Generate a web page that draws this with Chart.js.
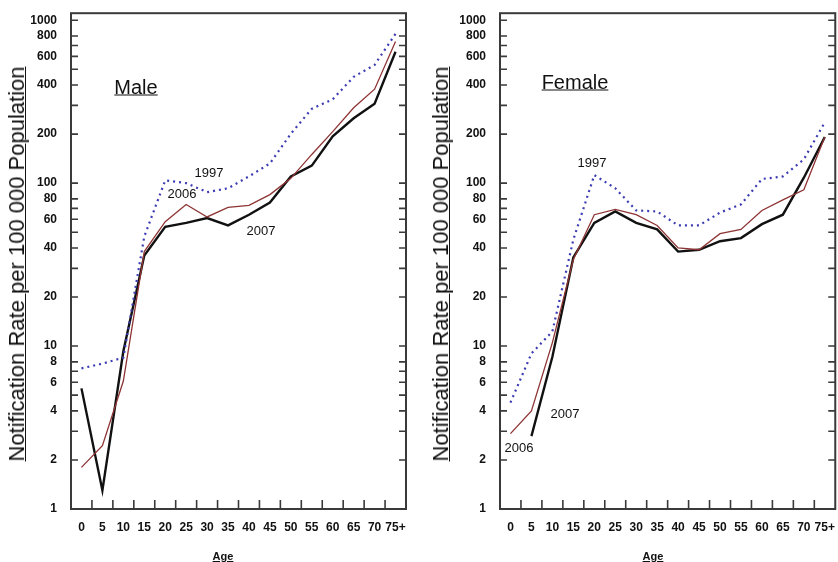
<!DOCTYPE html>
<html>
<head>
<meta charset="utf-8">
<script src="https://cdn.jsdelivr.net/npm/chart.js@4.4.0/dist/chart.umd.min.js"></script>
<style>
  body { margin: 0; background: #fff; }
  #wrap { position: relative; width: 838px; height: 562px; overflow: hidden; font-family: 'Liberation Sans', Arial, sans-serif; }
  canvas { position: absolute; top: 0; }
  .t { position: absolute; white-space: nowrap; transform: translate(-50%, -50%); color: #111; }
  .ytitle { font-size: 22px; text-decoration: underline; text-decoration-thickness: 1px; transform: translate(-50%, -50%) rotate(-90deg); }
  .panel { font-size: 20px; text-decoration: underline; text-decoration-thickness: 1px; }
  .age { font-size: 11px; font-weight: bold; text-decoration: underline; }
  .note { font-size: 13px; }
</style>
</head>
<body>
<div id="wrap">
  <canvas id="male" width="420" height="562" style="left:0"></canvas>
  <canvas id="female" width="418" height="562" style="left:420px"></canvas>

  <div class="t ytitle" style="left:17px; top:264px">Notification Rate per 100 000 Population</div>
  <div class="t ytitle" style="left:441px; top:264px">Notification Rate per 100 000 Population</div>
  <div class="t panel" style="left:136px; top:87px">Male</div>
  <div class="t panel" style="left:575px; top:82px">Female</div>
  <div class="t age" style="left:223px; top:556px">Age</div>
  <div class="t age" style="left:653px; top:556px">Age</div>

  <div class="t note" style="left:209px; top:172px">1997</div>
  <div class="t note" style="left:182px; top:193px">2006</div>
  <div class="t note" style="left:261px; top:230px">2007</div>
  <div class="t note" style="left:592px; top:162px">1997</div>
  <div class="t note" style="left:519px; top:447px">2006</div>
  <div class="t note" style="left:565px; top:413px">2007</div>
</div>
<script>
// age groups and notification rates
const ages = ['0', '5', '10', '15', '20', '25', '30', '35', '40', '45', '50', '55', '60', '65', '70', '75+'];

const male1997 = [7.3, 7.8, 8.5, 47, 104, 100, 88, 93, 110, 132, 201, 286, 327, 449, 532, 825];
const male2006 = [1.8, 2.45, 6.1, 38, 58, 74, 62, 71, 73, 85, 107, 150, 207, 290, 377, 741];
const male2007 = [5.5, 1.3, 9.3, 36, 54, 57, 61, 55, 64, 76, 110, 128, 194, 250, 307, 640];

const female1997 = [4.5, 9, 12.3, 45, 112, 93, 68, 67, 55, 55, 66, 74, 106, 110, 140, 236];
const female2006 = [2.9, 4.0, 10.5, 34, 64, 69, 64, 55, 40, 39, 49, 52, 68, 79, 91, 192];
const female2007 = [null, 2.8, 8.6, 35, 57, 67, 57, 52, 38, 39, 44, 46, 56, 64, 108, 192];

const yTicks = [1, 2, 3, 4, 5, 6, 7, 8, 10, 20, 30, 40, 50, 60, 70, 80,
  100, 200, 300, 400, 500, 600, 700, 800, 1000];
const yLabels = [1, 2, 4, 6, 8, 10, 20, 40, 60, 80, 100, 200, 400, 600, 800, 1000];

// box around the plot with inward tick marks
const frame = {
  id: 'frame',
  afterDraw(chart) {
    const { ctx, chartArea: a, scales: { x, y } } = chart;
    ctx.save();
    ctx.strokeStyle = '#3a3a3a';
    ctx.lineWidth = 1.6;
    ctx.beginPath();
    y.ticks.forEach(t => {
      const py = y.getPixelForValue(t.value);
      ctx.moveTo(a.left, py); ctx.lineTo(a.left + 7, py);
      ctx.moveTo(a.right, py); ctx.lineTo(a.right - 7, py);
    });
    for (let i = 1; i < ages.length; i++) {
      const px = (x.getPixelForValue(i - 1) + x.getPixelForValue(i)) / 2;
      ctx.moveTo(px, a.bottom); ctx.lineTo(px, a.bottom - 9);
    }
    ctx.stroke();
    ctx.lineWidth = 2;
    ctx.strokeRect(a.left, a.top, a.right - a.left, a.bottom - a.top);
    ctx.restore();
  }
};

function makeChart(id, d1997, d2006, d2007, axisWidth, padRight) {
  return new Chart(document.getElementById(id), {
    type: 'line',
    data: {
      labels: ages,
      datasets: [
        { label: '1997', data: d1997, borderColor: '#3b3bb3', borderWidth: 2.2, borderDash: [2, 4] },
        { label: '2006', data: d2006, borderColor: '#8e3434', borderWidth: 1.3 },
        { label: '2007', data: d2007, borderColor: '#111111', borderWidth: 2.4 }
      ]
    },
    options: {
      responsive: false,
      animation: false,
      layout: { padding: { top: 13, right: padRight, left: 0, bottom: 0 } },
      elements: { point: { radius: 0 }, line: { tension: 0 } },
      plugins: { legend: { display: false }, tooltip: { enabled: false } },
      scales: {
        x: {
          type: 'category',
          offset: true,
          grid: { display: false },
          border: { display: false },
          afterFit: s => { s.height = 53; },
          ticks: {
            autoSkip: false, maxRotation: 0, padding: 3, color: '#111',
            font: { family: 'Liberation Sans', size: 12, weight: 'bold' }
          }
        },
        y: {
          type: 'logarithmic',
          min: 1,
          max: 1104,
          grid: { display: false },
          border: { display: false },
          afterFit: s => { s.width = axisWidth; },
          afterBuildTicks: s => { s.ticks = yTicks.map(v => ({ value: v })); },
          ticks: {
            autoSkip: false, padding: 6, color: '#111',
            font: { family: 'Liberation Sans', size: 12, weight: 'bold' },
            callback: v => yLabels.includes(v) ? String(v) : ''
          }
        }
      }
    },
    plugins: [frame]
  });
}

makeChart('male', male1997, male2006, male2007, 71, 14);
makeChart('female', female1997, female2006, female2007, 80, 1);
</script>
</body>
</html>
